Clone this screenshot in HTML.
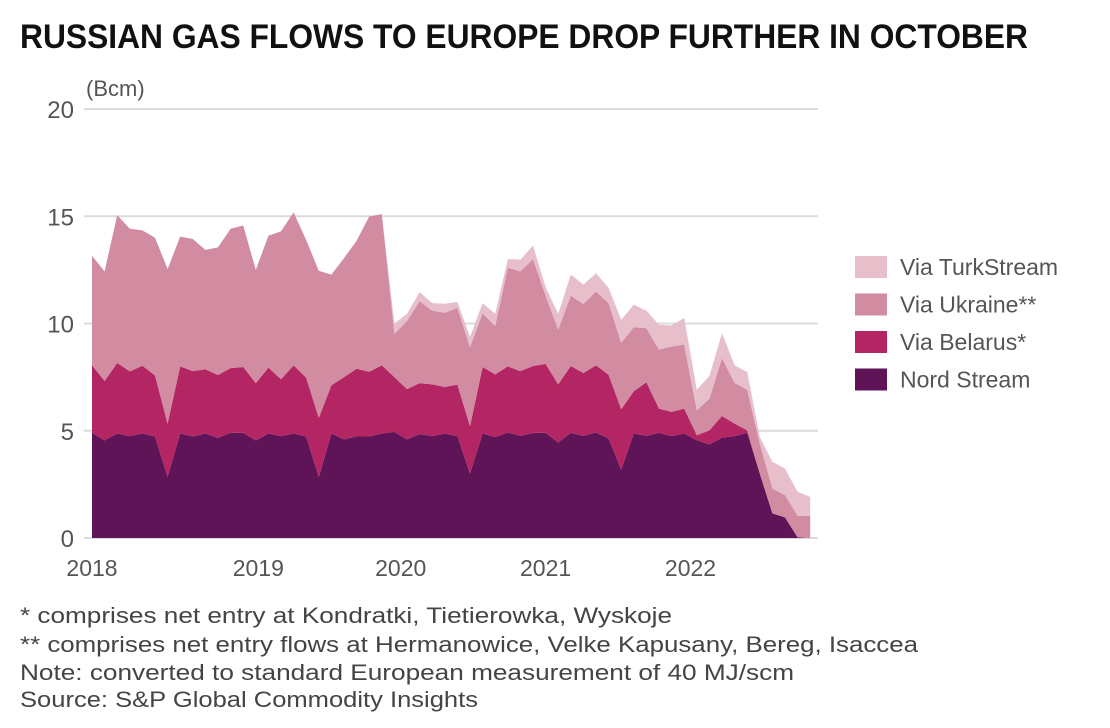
<!DOCTYPE html>
<html><head><meta charset="utf-8"><style>
body{margin:0;background:#fff;}
svg{display:block;font-family:"Liberation Sans",sans-serif;}
</style></head><body>
<svg id="chart" width="1110" height="728">
<text x="20" y="48" font-size="34" font-weight="bold" fill="#111" textLength="1008" lengthAdjust="spacingAndGlyphs">RUSSIAN GAS FLOWS TO EUROPE DROP FURTHER IN OCTOBER</text>
<text x="86" y="96" font-size="22" fill="#555">(Bcm)</text>
<g id="grid"></g><g id="areas"></g><g id="yticks"></g><g id="xticks"></g>
<g id="legend"></g>
<g font-size="22" fill="#444">
<text x="20" y="623" textLength="652" lengthAdjust="spacingAndGlyphs">* comprises net entry at Kondratki, Tietierowka, Wyskoje</text>
<text x="20" y="652" textLength="898" lengthAdjust="spacingAndGlyphs">** comprises net entry flows at Hermanowice, Velke Kapusany, Bereg, Isaccea</text>
<text x="20" y="680" textLength="774" lengthAdjust="spacingAndGlyphs">Note: converted to standard European measurement of 40 MJ/scm</text>
<text x="20" y="707" textLength="458" lengthAdjust="spacingAndGlyphs">Source: S&amp;P Global Commodity Insights</text>
</g>
</svg>
<script>
const nordStream=[4.9,4.55,4.87,4.75,4.87,4.73,2.85,4.87,4.73,4.87,4.67,4.9,4.9,4.55,4.87,4.75,4.87,4.73,2.85,4.87,4.6,4.73,4.73,4.87,4.95,4.6,4.84,4.75,4.87,4.75,3.0,4.87,4.71,4.92,4.76,4.9,4.9,4.45,4.9,4.76,4.92,4.64,3.19,4.87,4.76,4.9,4.75,4.87,4.56,4.36,4.68,4.75,4.9,3.0,1.15,0.96,0.03,0];
const viaBelarus=[3.16,2.77,3.29,3.02,3.16,2.85,2.48,3.13,3.05,3.0,2.93,3.02,3.07,2.67,3.07,2.65,3.18,2.74,2.75,2.25,2.9,3.16,3.02,3.18,2.55,2.34,2.38,2.41,2.17,2.4,2.21,3.1,2.92,3.08,3.02,3.12,3.22,2.71,3.12,2.93,3.13,2.97,2.81,1.97,2.5,1.13,1.13,1.16,0.23,0.66,1.01,0.58,0.12,0,0,0,0,0];
const viaUkraine=[5.1,5.11,6.89,6.65,6.31,6.42,7.21,6.05,6.16,5.56,5.95,6.5,6.6,5.28,6.15,6.9,7.13,6.42,6.86,5.16,5.55,5.97,7.24,7.05,2.02,3.17,3.82,3.44,3.46,3.58,3.69,2.51,2.25,4.6,4.65,4.98,3.18,2.55,3.28,3.22,3.44,3.34,3.1,2.99,2.52,2.75,3.05,2.99,1.16,1.48,2.7,1.9,1.89,1.4,1.16,1.04,1.01,1.04];
const viaTurkStream=[0,0,0,0,0,0,0,0,0,0,0,0,0,0,0,0,0,0,0,0,0,0,0,0,0.48,0.34,0.42,0.35,0.42,0.27,0.47,0.47,0.57,0.4,0.55,0.63,0.39,0.74,0.98,0.9,0.85,0.71,1.07,1.05,0.82,1.16,0.98,1.24,0.96,1.05,1.16,0.82,0.83,0.31,1.24,1.24,1.11,0.88];
const yTicks=[0,5,10,15,20];
const xLabels=["2018","2019","2020","2021","2022"];
const xLabelMonth=[0,13.2,24.5,36,47.5];
const seriesNames=["Via TurkStream","Via Ukraine**","Via Belarus*","Nord Stream"];

const NS="http://www.w3.org/2000/svg";
const x=i=>92+i*12.6;
const y=v=>538-v*21.45;
function mk(tag,attrs,parent){const e=document.createElementNS(NS,tag);for(const k in attrs)e.setAttribute(k,attrs[k]);parent.appendChild(e);return e;}
const grid=document.getElementById('grid'),yt=document.getElementById('yticks');
yTicks.forEach(t=>{
  const l=mk('line',{x1:84,x2:818,y1:y(t),y2:y(t),stroke:'#dcdcdc','stroke-width':2},grid);
  
  
  const tx=mk('text',{x:74,y:y(t)+9,'text-anchor':'end','font-size':24,fill:'#555'},yt);
  tx.textContent=t;
  
  
});
const xt=document.getElementById('xticks');
xLabels.forEach((s,i)=>{
  const tx=mk('text',{x:x(xLabelMonth[i]),y:576,'text-anchor':'middle','font-size':23,fill:'#555'},xt);
  tx.textContent=s;
  
  
});
const layers=[nordStream,viaBelarus,viaUkraine,viaTurkStream];
const colors=['#5f1458','#b32663','#d28ca2','#e6bfcb'];
const names=['area-nord-stream','area-via-belarus','area-via-ukraine','area-via-turkstream'];
const n=nordStream.length;
let base=new Array(n).fill(0);
const ag=document.getElementById('areas');
layers.forEach((arr,k)=>{
  const top=base.map((b,i)=>b+arr[i]);
  let d='M'+x(0)+','+y(top[0]);
  for(let i=1;i<n;i++)d+='L'+x(i)+','+y(top[i]);
  for(let i=n-1;i>=0;i--)d+='L'+x(i)+','+y(base[i]);
  d+='Z';
  const p=mk('path',{d:d,fill:colors[k]},ag);
  
  
  base=top;
});
const lg=document.getElementById('legend');
const lc=['#e6bfcb','#d28ca2','#b32663','#5f1458'];
seriesNames.forEach((s,i)=>{
  const cy=267+i*37.5;
  const r=mk('rect',{x:855,y:cy-11,width:32,height:22,fill:lc[i]},lg);
  
  
  const t=mk('text',{x:900,y:cy+8,'font-size':23,fill:'#555'},lg);
  t.textContent=s;
  
  
});
</script>
</body></html>
